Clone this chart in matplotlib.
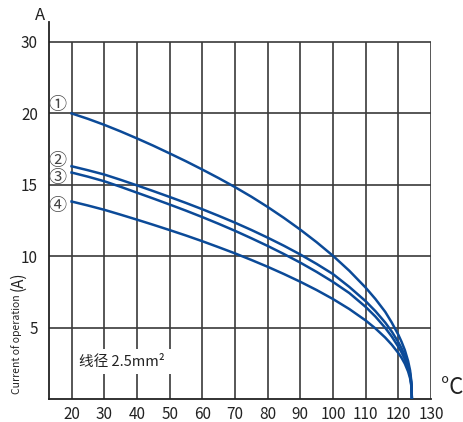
import matplotlib
matplotlib.use('Agg')
import matplotlib.pyplot as plt

plt.rcParams['font.family'] = ['Noto Sans CJK SC', 'DejaVu Sans']

# temperature (°C) and current (A)
temp = [20, 25, 30, 35, 40, 45, 50, 55, 60, 65, 70, 75, 80, 85, 90, 95, 100, 105, 110,
        113, 116, 118, 120, 121, 122, 123, 123.6, 124, 124.15]
curve1 = [20.0, 19.62, 19.2, 18.74, 18.25, 17.74, 17.2, 16.65, 16.07, 15.47, 14.84, 14.17,
          13.45, 12.68, 11.86, 10.98, 10.03, 8.98, 7.8, 7.0, 6.1, 5.35, 4.5, 4.0, 3.42, 2.65,
          2.0, 1.2, 0]
curve2 = [16.3, 16.02, 15.72, 15.35, 14.96, 14.56, 14.15, 13.73, 13.29, 12.83, 12.35, 11.84,
          11.3, 10.73, 10.12, 9.46, 8.75, 7.85, 6.85, 6.15, 5.35, 4.72, 3.98, 3.55, 3.02, 2.35,
          1.78, 1.08, 0]
curve3 = [15.86, 15.57, 15.25, 14.86, 14.45, 14.04, 13.62, 13.19, 12.74, 12.27, 11.78, 11.26,
          10.72, 10.15, 9.55, 8.9, 8.2, 7.42, 6.45, 5.77, 4.98, 4.37, 3.66, 3.26, 2.78, 2.15,
          1.62, 0.98, 0]
curve4 = [13.83, 13.55, 13.25, 12.91, 12.56, 12.2, 11.83, 11.45, 11.05, 10.63, 10.2, 9.74,
          9.26, 8.75, 8.21, 7.63, 7.0, 6.3, 5.5, 4.94, 4.3, 3.8, 3.22, 2.88, 2.47, 1.92,
          1.45, 0.88, 0]
curves = [curve1, curve2, curve3, curve4]
markers = ['①', '②', '③', '④']

x_ticks = [20, 30, 40, 50, 60, 70, 80, 90, 100, 110, 120, 130]
# the y axis is drawn evenly spaced, the top label jumps to 30
y_ticks = [5, 10, 15, 20, 25]
y_labels = ['5', '10', '15', '20', '30']

fig = plt.figure(figsize=(4.64, 4.22), dpi=100)
ax = fig.add_axes([49 / 464, 23 / 422, 382 / 464, 377 / 422])
ax.set_xlim(13.1, 130)
ax.set_ylim(0, 26.4)

# grid
ax.vlines(x_ticks, 0, 25, colors='#3a3a3a', lw=1.2, zorder=1)
ax.hlines(y_ticks, 13.1, 130, colors='#3a3a3a', lw=1.2, zorder=1)

for c in curves:
    ax.plot(temp, c, color='#0b4a98', lw=1.8, zorder=3)

for m, c in zip(markers, [20.6, 16.7, 15.5, 13.5]):
    ax.text(15.7, c, m, ha='center', va='center', fontsize=13, color='#444444')

ax.text(35.5, 2.6, '线径 2.5mm²', ha='center', va='center', fontsize=10.5,
        color='#222222', zorder=4,
        bbox=dict(facecolor='white', edgecolor='none', pad=4))

ax.set_xticks(x_ticks)
ax.set_yticks(y_ticks)
ax.set_yticklabels(y_labels)
ax.tick_params(length=0, labelsize=11, labelcolor='#222222')
ax.tick_params(axis='x', pad=5)
ax.tick_params(axis='y', pad=8)

for s in ['top', 'right']:
    ax.spines[s].set_visible(False)
for s in ['left', 'bottom']:
    ax.spines[s].set_linewidth(1.3)
    ax.spines[s].set_color('#222222')

fig.text(40 / 464, 1 - 16 / 422, 'A', ha='center', va='center', fontsize=12, color='#222222')
fig.text(452 / 464, 1 - 387 / 422, '°C', ha='center', va='center', fontsize=16, color='#222222')
fig.text(17 / 464, 1 - 394 / 422, 'Current of operation', rotation=90,
         ha='center', va='bottom', fontsize=7.5, color='#222222')
fig.text(18 / 464, 1 - 291 / 422, '(A)', rotation=90,
         ha='center', va='bottom', fontsize=11, color='#222222')

fig.savefig('out.png', dpi=100)
